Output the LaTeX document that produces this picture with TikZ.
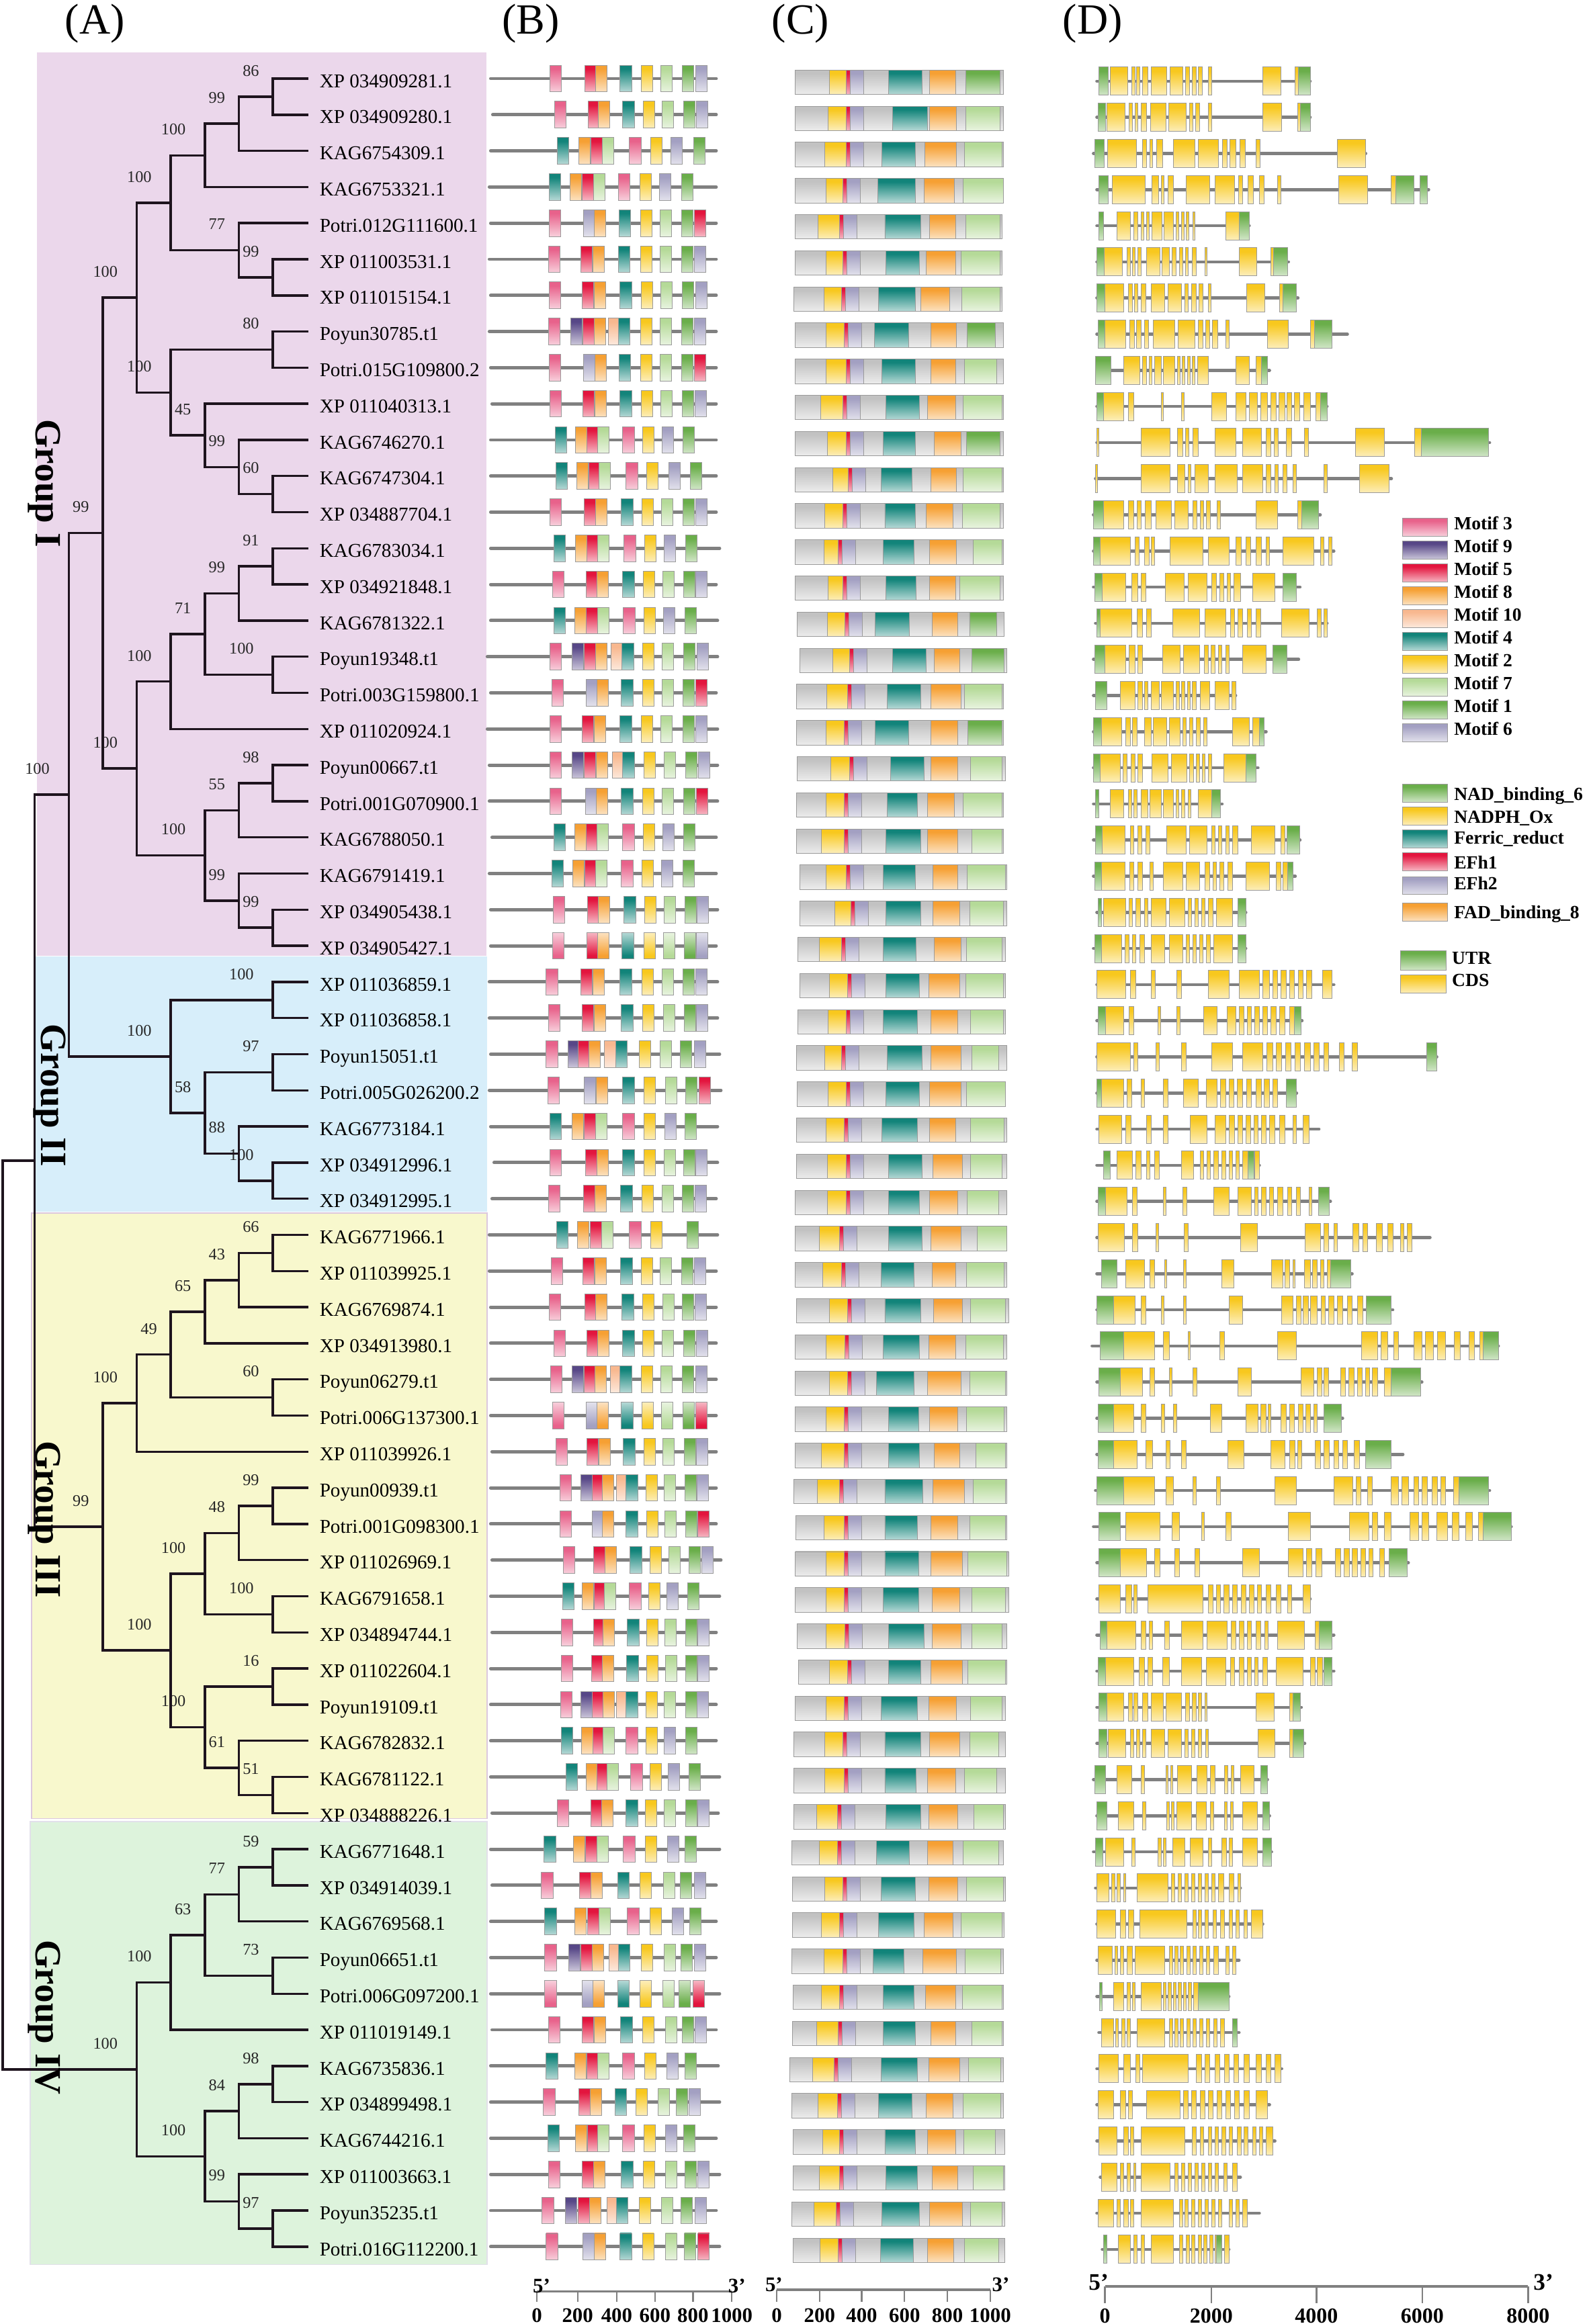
\documentclass[tikz,border=0pt]{standalone}
\usepackage{fontspec}
\setmainfont{Liberation Serif}
\usetikzlibrary{calc}
\definecolor{c3}{HTML}{E8628B}
\definecolor{c9}{HTML}{574787}
\definecolor{c5}{HTML}{E3153E}
\definecolor{c8}{HTML}{F6A033}
\definecolor{c10}{HTML}{F8B88F}
\definecolor{c4}{HTML}{12847A}
\definecolor{c2}{HTML}{F8C81E}
\definecolor{c7}{HTML}{B5DA98}
\definecolor{c1}{HTML}{6AAE4A}
\definecolor{c6}{HTML}{A3A0C2}
\definecolor{cG}{HTML}{C2C2C2}
\colorlet{cc}{c2}
\colorlet{cu}{c1}
\definecolor{treec}{HTML}{1E141E}
\definecolor{lineg}{HTML}{808080}
\definecolor{boxg}{HTML}{9A9A9A}
\definecolor{gIc}{HTML}{EBD7EB}
\definecolor{gIIc}{HTML}{D7EEFA}
\definecolor{gIIIc}{HTML}{F8F8CD}
\definecolor{gIIIb}{HTML}{DCC8DE}
\definecolor{gIVc}{HTML}{DDF3DC}
\definecolor{gIVb}{HTML}{E2E0EA}
\newcommand\mksh[1]{%
 \pgfdeclareverticalshading{sh#1}{100bp}{color(0bp)=(white); color(6bp)=(white); color(68bp)=(c#1); color(100bp)=(c#1)}%
 \pgfdeclareverticalshading{sh#1r}{100bp}{color(0bp)=(c#1); color(32bp)=(c#1); color(94bp)=(white); color(100bp)=(white)}}
\mksh{3}\mksh{9}\mksh{5}\mksh{8}\mksh{10}\mksh{4}\mksh{2}\mksh{7}\mksh{1}\mksh{6}\mksh{G}\mksh{c}\mksh{u}
\newcommand{\tnode}[6]{%
  \path let \p1=(#3), \p2=(#4) in coordinate (#1) at (#2pt,{0.5*\y1+0.5*\y2});
  \draw[br] (#1) |- (#3);
  \draw[br] (#1) |- (#4);
  \node[bs] (#1l) at ($(#1)+(#6,-17.5)$) {#5};}
\newcommand{\tnodeN}[4]{%
  \path let \p1=(#3), \p2=(#4) in coordinate (#1) at (#2pt,{0.5*\y1+0.5*\y2});
  \draw[br] (#1) |- (#3);
  \draw[br] (#1) |- (#4);}
\begin{document}
\begin{tikzpicture}[x=1pt,y=-1pt,
  br/.style={draw=treec, line width=1.6pt, line cap=rect},
  leaf/.style={anchor=base west, inner sep=0pt, font=\fontsize{13.2}{14}\selectfont},
  bs/.style={inner sep=0pt, font=\fontsize{11}{12}\selectfont, text=black!85},
  grp/.style={inner sep=0pt, font=\fontsize{25}{26}\selectfont\bfseries, rotate=-90, anchor=base},
  bline/.style={draw=lineg, line width=2.2pt, line cap=round},
  dline/.style={draw=lineg, line width=2.1pt, line cap=round},
  obox/.style={draw=boxg, line width=0.45pt},
  ttl/.style={font=\fontsize{29}{30}\selectfont, inner sep=0pt},
  leg/.style={font=\fontsize{12.5}{13}\selectfont\bfseries, anchor=base west, inner sep=0pt},
  axl/.style={draw=lineg, line width=1.8pt},
  tck/.style={draw=lineg, line width=1.1pt},
  axt/.style={font=\fontsize{14}{15}\selectfont\bfseries, anchor=base, inner sep=0pt},
  axp/.style={font=\fontsize{14}{15}\selectfont\bfseries, anchor=base, inner sep=0pt}]
\useasboundingbox (0,0) rectangle (1073,1568);
\fill[white] (0,0) rectangle (1073,1568);
% group backgrounds
\fill[gIc] (24.9,35.2) rectangle (328,644.8);
\fill[gIIc] (22.7,645.5) rectangle (328.5,817.5);
\draw[fill=gIIIc, draw=gIIIb, line width=0.8pt] (21.2,818.5) rectangle (328.5,1227);
\draw[fill=gIVc, draw=gIVb, line width=0.6pt] (20.4,1229) rectangle (328.5,1528);
% titles
\node[ttl] (tA) at (64,16) {(A)};
\node[ttl] (tB) at (358,16) {(B)};
\node[ttl] (tC) at (540,16) {(C)};
\node[ttl] (tD) at (737,16) {(D)};
% leaves
\foreach \i/\nm in {1/XP 034909281.1,2/XP 034909280.1,3/KAG6754309.1,4/KAG6753321.1,5/Potri.012G111600.1,6/XP 011003531.1,7/XP 011015154.1,8/Poyun30785.t1,9/Potri.015G109800.2,10/XP 011040313.1,11/KAG6746270.1,12/KAG6747304.1,13/XP 034887704.1,14/KAG6783034.1,15/XP 034921848.1,16/KAG6781322.1,17/Poyun19348.t1,18/Potri.003G159800.1,19/XP 011020924.1,20/Poyun00667.t1,21/Potri.001G070900.1,22/KAG6788050.1,23/KAG6791419.1,24/XP 034905438.1,25/XP 034905427.1,26/XP 011036859.1,27/XP 011036858.1,28/Poyun15051.t1,29/Potri.005G026200.2,30/KAG6773184.1,31/XP 034912996.1,32/XP 034912995.1,33/KAG6771966.1,34/XP 011039925.1,35/KAG6769874.1,36/XP 034913980.1,37/Poyun06279.t1,38/Potri.006G137300.1,39/XP 011039926.1,40/Poyun00939.t1,41/Potri.001G098300.1,42/XP 011026969.1,43/KAG6791658.1,44/XP 034894744.1,45/XP 011022604.1,46/Poyun19109.t1,47/KAG6782832.1,48/KAG6781122.1,49/XP 034888226.1,50/KAG6771648.1,51/XP 034914039.1,52/KAG6769568.1,53/Poyun06651.t1,54/Potri.006G097200.1,55/XP 011019149.1,56/KAG6735836.1,57/XP 034899498.1,58/KAG6744216.1,59/XP 011003663.1,60/Poyun35235.t1,61/Potri.016G112200.1}{
  \pgfmathsetmacro\yy{53+(\i-1)*24.38}
  \coordinate (t\i) at (207.3,\yy);
  \node[leaf] (n\i) at (215.4,{\yy+6}) {\nm};
}
% tree
\tnode{a}{184.05}{t1}{t2}{86}{-14.8}
\tnode{b}{161.1}{a}{t3}{99}{-14.8}
\tnode{c}{138.15}{b}{t4}{100}{-21.2}
\tnode{e}{184.05}{t6}{t7}{99}{-14.8}
\tnode{d}{161.1}{t5}{e}{77}{-14.8}
\tnode{f}{115.2}{c}{d}{100}{-21.2}
\tnode{g}{184.05}{t8}{t9}{80}{-14.8}
\tnode{hA}{184.05}{t12}{t13}{60}{-14.8}
\tnode{hB}{161.1}{t11}{hA}{99}{-14.8}
\tnode{hC}{138.15}{t10}{hB}{45}{-14.8}
\tnode{i}{115.2}{g}{hC}{100}{-21.2}
\tnode{j}{92.25}{f}{i}{100}{-21.2}
\tnode{kA}{184.05}{t14}{t15}{91}{-14.8}
\tnode{kB}{161.1}{kA}{t16}{99}{-14.8}
\tnode{kC}{184.05}{t17}{t18}{100}{-21.2}
\tnode{kD}{138.15}{kB}{kC}{71}{-14.8}
\tnode{kE}{115.2}{kD}{t19}{100}{-21.2}
\tnode{mA}{184.05}{t20}{t21}{98}{-14.8}
\tnode{mB}{161.1}{mA}{t22}{55}{-14.8}
\tnode{mC}{184.05}{t24}{t25}{99}{-14.8}
\tnode{mD}{161.1}{t23}{mC}{99}{-14.8}
\tnode{mE}{138.15}{mB}{mD}{100}{-21.2}
\tnode{nA}{92.25}{kE}{mE}{100}{-21.2}
\tnode{GI}{69.3}{j}{nA}{99}{-14.8}
\tnode{pA}{184.05}{t26}{t27}{100}{-21.2}
\tnode{pB}{184.05}{t28}{t29}{97}{-14.8}
\tnode{pC}{184.05}{t31}{t32}{100}{-21.2}
\tnode{pD}{161.1}{t30}{pC}{88}{-14.8}
\tnode{pE}{138.15}{pB}{pD}{58}{-14.8}
\tnode{GII}{115.2}{pA}{pE}{100}{-21.2}
\tnode{IA}{46.35}{GI}{GII}{100}{-21.2}
\tnode{qA}{184.05}{t33}{t34}{66}{-14.8}
\tnode{qB}{161.1}{qA}{t35}{43}{-14.8}
\tnode{qC}{138.15}{qB}{t36}{65}{-14.8}
\tnode{qD}{184.05}{t37}{t38}{60}{-14.8}
\tnode{qE}{115.2}{qC}{qD}{49}{-14.8}
\tnode{qF}{92.25}{qE}{t39}{100}{-21.2}
\tnode{rA}{184.05}{t40}{t41}{99}{-14.8}
\tnode{rB}{161.1}{rA}{t42}{48}{-14.8}
\tnode{rC}{184.05}{t43}{t44}{100}{-21.2}
\tnode{rD}{138.15}{rB}{rC}{100}{-21.2}
\tnode{sA}{184.05}{t45}{t46}{16}{-14.8}
\tnode{sB}{184.05}{t48}{t49}{51}{-14.8}
\tnode{sC}{161.1}{t47}{sB}{61}{-14.8}
\tnode{sD}{138.15}{sA}{sC}{100}{-21.2}
\tnode{rE}{115.2}{rD}{sD}{100}{-21.2}
\tnode{GIII}{69.3}{qF}{rE}{99}{-14.8}
\tnodeN{IB}{23.4}{IA}{GIII}
\tnode{uA}{184.05}{t50}{t51}{59}{-14.8}
\tnode{uB}{161.1}{uA}{t52}{77}{-14.8}
\tnode{uC}{184.05}{t53}{t54}{73}{-14.8}
\tnode{uD}{138.15}{uB}{uC}{63}{-14.8}
\tnode{uE}{115.2}{uD}{t55}{100}{-21.2}
\tnode{vA}{184.05}{t56}{t57}{98}{-14.8}
\tnode{vB}{161.1}{vA}{t58}{84}{-14.8}
\tnode{vC}{184.05}{t60}{t61}{97}{-14.8}
\tnode{vD}{161.1}{t59}{vC}{99}{-14.8}
\tnode{vE}{138.15}{vB}{vD}{100}{-21.2}
\tnode{GIV}{92.25}{uE}{vE}{100}{-21.2}
\tnodeN{root}{1.8}{IB}{GIV}
% group labels
\node[grp] (lg1) at (24.2,326) {Group I};
\node[grp] (lg2) at (27.9,739) {Group II};
\node[grp] (lg3) at (24.2,1025) {Group III};
\node[grp] (lg4) at (24.2,1361) {Group IV};
% panels
\begin{scope}[xshift=326.4pt, x=0.4568pt]
% panel B
\foreach \ra/\la/\lb/\ml in {
1/10/343/{3/97,5/149,8/165,4/201,2/232,7/261,1/293,6/313},
2/13/343/{3/104,5/154,8/169,4/205,2/235,7/263,1/295,6/314},
3/10/343/{4/108,8/140,5/158,7/175,3/215,2/246,6/276,1/310},
4/8/343/{4/96,8/127,5/145,7/162,3/199,2/230,6/259,1/292},
5/10/343/{3/96,6/147,8/163,4/200,2/231,7/260,1/292,5/311},
6/8/343/{3/95,5/143,8/161,4/199,2/231,7/260,1/292,6/311},
7/10/343/{3/96,5/145,8/163,4/201,2/232,7/261,1/293,6/313},
8/8/343/{3/95,9/128,5/146,8/163,10/184,4/199,2/231,7/260,1/292,6/311},
9/10/343/{3/96,6/147,8/164,4/200,2/231,7/260,1/292,5/311},
10/12/343/{3/97,5/146,8/164,4/201,2/232,7/261,1/293,6/312},
11/10/343/{4/105,8/135,5/152,7/168,3/205,2/234,6/263,1/294},
12/10/343/{4/106,8/137,5/155,7/170,3/210,2/240,6/273,1/305},
13/10/343/{3/97,5/148,8/165,4/203,2/233,7/262,1/294,6/313},
14/10/348/{4/103,8/135,5/152,7/168,3/207,2/237,6/266,1/298},
15/10/343/{3/101,5/151,8/167,4/205,2/235,7/264,1/295,6/313},
16/10/345/{4/103,8/134,5/151,7/168,3/206,2/236,6/265,1/297},
17/5/345/{3/97,9/130,5/148,8/165,10/188,4/204,2/234,7/263,1/295,6/315},
18/10/343/{3/100,6/151,8/167,4/203,2/234,7/263,1/294,5/313},
19/5/345/{3/97,5/145,8/163,4/201,2/232,7/261,1/294,6/313},
20/8/345/{3/97,9/130,5/148,8/166,10/190,4/205,2/236,7/266,1/298,6/317},
21/8/345/{3/97,6/150,8/166,4/203,2/234,7/263,1/295,5/314},
22/12/343/{4/103,8/134,5/151,7/167,3/205,2/235,6/264,1/295},
23/8/343/{4/100,8/131,5/149,7/165,3/203,2/233,6/262,1/294},
24/10/345/{3/102,5/153,8/169,4/207,2/237,7/266,1/297,6/315},
25/10/343/{3r/101,5r/152,8r/168,4r/204,2r/236,7r/265,1r/296,6r/314},
26/8/345/{3/92,5/143,8/161,4/201,2/233,7/263,1/294,6/313},
27/8/345/{3/95,5/145,8/163,4/203,2/234,7/265,1/296,6/314},
28/10/348/{3/92,9/124,5/139,8/155,10/178,4/195,2/229,7/260,1/290,6/311},
29/8/350/{3/94,6/148,8/166,4/205,2/236,7/268,1/298,5/318},
30/10/345/{4/97,8/130,5/148,7/165,3/205,2/236,6/267,1/297},
31/15/345/{3/97,5/150,8/167,4/205,2/236,7/266,1/295,6/313},
32/12/343/{3/95,5/147,8/164,4/202,2/233,7/263,1/293,6/312},
33/8/345/{4/107,8/138,5/157,7/174,3/215,2/246,1/300},
34/8/343/{3/99,5/146,8/164,4/202,2/232,7/260,1/292,6/311},
35/10/343/{3/96,5/149,8/165,4/204,2/234,7/264,1/293,6/312},
36/10/343/{3/103,5/152,8/168,4/205,2/234,7/263,1/295,6/314},
37/10/343/{3/98,9/130,5/148,8/164,10/187,4/201,2/232,7/261,1/293,6/313},
38/10/343/{3r/101,6r/151,8r/167,4r/203,2r/233,7r/262,1r/294,5r/313},
39/12/343/{3/106,5/152,8/170,4/206,2/236,7/264,1/296,6/314},
40/10/343/{3/112,9/143,5/160,8/175,10/196,4/210,2/239,7/266,1/297,6/315},
41/10/343/{3/112,6/160,8/175,4/210,2/240,7/267,1/298,5/316},
42/12/350/{3/117,5/162,8/179,4/216,2/245,7/273,1/303,6/322},
43/10/348/{4/116,8/145,5/163,7/178,3/215,2/243,6/270,1/301},
44/12/343/{3/114,5/162,8/176,4/212,2/240,7/267,1/298,6/316},
45/10/343/{3/114,5/159,8/175,4/211,2/240,7/268,1/298,6/316},
46/10/343/{3/113,9/143,5/160,8/176,10/196,4/210,2/239,7/266,1/298,6/315},
47/10/343/{4/114,8/144,5/161,7/176,3/210,2/239,6/266,1/298},
48/10/348/{4/121,8/151,5/167,7/182,3/217,2/245,6/272,1/303},
49/12/346/{3/108,5/158,8/174,4/210,2/238,7/266,1/298,6/316},
50/10/348/{4/89,8/132,5/150,7/167,3/206,2/238,6/271,1/297},
51/12/343/{3/85,5/141,8/158,4/198,2/230,7/265,1/290,6/311},
52/10/343/{4/90,8/134,5/153,7/170,3/212,2/245,6/278,1/304},
53/10/343/{3/90,9/125,5/143,8/160,10/185,4/199,2/232,7/266,1/291,6/311},
54/10/348/{3r/90,6r/145,8r/161,4r/198,2r/230,7r/264,1r/288,5r/309},
55/12/343/{3/95,5/145,8/163,4/202,2/234,7/268,1/293,6/312},
56/10/346/{4/92,8/134,5/152,7/168,3/205,2/237,6/270,1/297},
57/10/348/{3/88,5/140,8/157,4/194,2/224,7/257,1/284,6/303},
58/10/343/{4/94,8/135,5/153,7/168,3/205,2/236,6/268,1/295},
59/10/348/{3/95,5/145,8/162,4/203,2/235,7/268,1/297,6/316},
60/10/343/{3/86,9/120,5/139,8/156,10/182,4/196,2/229,7/262,1/291,6/312},
61/10/348/{3/92,6/146,8/163,4/201,2/234,7/268,1/296,5/316}}{
  \pgfmathsetmacro\yy{53+(\ra-1)*24.38}
  \draw[bline] (\la,\yy) -- (\lb,\yy);
  \foreach \mc/\ms in \ml {\draw[obox, shading=sh\mc] (\ms,{\yy-9}) rectangle ++(17,18);}
}
% panel C
\foreach \ra/\sa/\ea/\ya/\yb/\ta/\tb/\oa/\ob/\ga/\gb/\dk in {
1/460/767/510/535/597/647/658/697/712/762/1,
2/460/767/508/535/603/655/658/698/712/762/7,
3/460/767/503/535/588/637/651/698/710/765/7,
4/460/767/505/530/582/637/650/695/708/767/7,
5/460/765/493/525/592/645/658/697/712/762/7,
6/460/765/505/530/593/643/653/697/705/762/7,
7/458/765/502/528/583/637/645/688/706/762/7,
8/460/767/505/532/577/627/660/698/714/755/1,
9/460/767/505/535/588/637/660/697/710/757/7,
10/460/767/497/530/593/643/655/697/708/765/7,
11/460/767/507/535/590/637/665/705/713/762/1,
12/460/767/515/538/587/632/660/698/708/765/7,
13/460/767/503/530/592/637/653/693/707/762/7,
14/460/767/502/523/590/635/658/698/722/765/7,
15/460/767/508/530/593/638/658/697/703/762/7,
16/463/768/507/533/578/628/662/700/717/757/1,
17/467/772/515/540/603/653/665/703/720/768/1,
18/462/767/506/537/595/645/660/705/710/765/7,
19/462/767/505/532/578/627/660/700/715/765/1,
20/463/770/512/540/600/650/660/700/718/765/7,
21/462/767/505/532/595/640/655/695/708/765/7,
22/462/767/498/532/593/645/655/700/720/765/7,
23/467/772/505/535/590/637/663/700/714/770/7,
24/467/772/518/542/593/645/663/703/717/767/7,
25/464/770/495/528/590/638/665/705/713/765/7,
26/467/770/510/537/593/643/657/703/712/767/7,
27/464/770/508/535/590/640/660/700/718/767/7,
28/462/772/503/528/595/647/660/705/720/760/7,
29/463/770/508/535/593/643/658/705/713/770/7,
30/462/772/505/532/588/640/658/697/718/768/7,
31/462/772/507/535/597/647/663/707/718/765/7,
32/460/772/507/535/597/643/658/700/714/760/7,
33/460/772/495/525/597/647/660/705/728/772/7,
34/460/772/500/528/587/635/662/697/713/768/7,
35/462/775/510/537/592/645/664/707/718/770/7,
36/460/772/505/533/590/643/657/697/712/767/7,
37/460/772/510/537/580/635/655/705/717/770/7,
38/460/772/505/532/597/642/658/700/713/768/7,
39/460/772/498/532/597/643/665/703/726/770/7,
40/458/772/492/525/592/648/663/710/722/770/7,
41/461/772/502/532/592/640/660/700/717/770/7,
42/460/775/505/532/592/642/660/707/715/772/7,
43/460/775/505/532/590/642/662/703/720/770/7,
44/463/772/505/533/597/650/662/705/720/765/7,
45/465/772/510/537/597/645/660/707/715/770/7,
46/460/770/505/532/587/640/657/698/718/765/7,
47/458/770/503/530/592/645/658/703/717/760/7,
48/458/770/503/532/592/638/655/697/710/757/7,
49/458/770/491/522/593/645/657/700/723/767/7,
50/455/767/495/522/580/628/655/693/708/760/7,
51/456/770/503/530/587/637/657/700/713/767/7,
52/456/768/498/525/583/635/650/693/705/765/7,
53/455/767/502/530/575/620/648/698/711/763/7,
54/457/767/498/525/590/635/652/697/707/765/7,
55/456/767/491/523/590/637/660/697/720/765/7,
56/452/767/485/517/587/640/657/703/716/763/7,
57/455/767/493/522/583/632/653/693/708/763/7,
58/457/769/500/525/592/637/655/697/709/755/7,
59/457/769/495/525/593/640/662/700/722/767/7,
60/455/769/487/520/588/643/658/707/718/765/7,
61/457/769/496/523/586/634/655/694/710/760/7}{
  \pgfmathsetmacro\yy{53+(\ra-1)*24.38}
  \pgfmathsetmacro\yt{\yy-5.75}
  \pgfmathsetmacro\ybb{\yy+10.75}
  \draw[obox, shading=shG] (\sa,\yt) rectangle (\ea,\ybb);
  \draw[obox, shading=sh2] (\ya,\yt) rectangle (\yb,\ybb);
  \draw[obox, shading=sh5] (\yb,\yt) rectangle ({\yb+6},\ybb);
  \draw[obox, shading=sh6] ({\yb+6},\yt) rectangle ({\yb+26},\ybb);
  \draw[obox, shading=sh4] (\ta,\yt) rectangle (\tb,\ybb);
  \draw[obox, shading=sh8] (\oa,\yt) rectangle (\ob,\ybb);
  \draw[obox, shading=sh\dk] (\ga,\yt) rectangle (\gb,\ybb);
}
% panel D
\foreach \ra/\la/\lb/\ex in {
1/905/1220/{908/922/u,925/951/c,957/962/c,964/968/c,972/980/c,985/1008/c,1013/1032/c,1036/1042/c,1046/1052/c,1055/1061/c,1070/1075/c,1150/1177/c,1198/1203/c,1203/1220/u},
2/905/1220/{907/918/u,920/947/c,953/958/c,962/966/c,970/978/c,984/1007/c,1011/1037/c,1042/1047/c,1051/1057/c,1070/1075/c,1150/1178/c,1202/1206/c,1206/1220/u},
3/900/1302/{902/916/u,921/964/c,972/978/c,983/987/c,993/1002/c,1018/1050/c,1055/1085/c,1091/1097/c,1101/1110/c,1116/1124/c,1140/1146/c,1260/1302/c},
4/905/1395/{908/922/u,928/976/c,986/996/c,1000/1004/c,1010/1018/c,1037/1072/c,1080/1108/c,1114/1120/c,1128/1136/c,1145/1152/c,1172/1177/c,1262/1305/c,1340/1346/c,1346/1373/u,1382/1393/u},
5/905/1130/{908/915/u,935/955/c,960/966/c,970/974/c,978/982/c,986/1001/c,1004/1018/c,1022/1026/c,1030/1034/c,1037/1041/c,1047/1050/c,1095/1115/c,1115/1130/u},
6/905/1188/{905/916/u,916/943/c,950/955/c,958/962/c,966/970/c,978/998/c,1001/1012/c,1016/1022/c,1027/1032/c,1036/1040/c,1046/1052/c,1065/1068/c,1115/1141/c,1162/1166/c,1166/1187/u},
7/905/1202/{905/917/u,917/945/c,952/958/c,961/966/c,970/977/c,985/1005/c,1010/1030/c,1035/1040/c,1045/1052/c,1056/1062/c,1070/1074/c,1126/1153/c,1175/1180/c,1180/1200/u},
8/905/1275/{907/917/u,917/948/c,954/961/c,964/970/c,975/981/c,988/1020/c,1025/1050/c,1055/1062/c,1066/1072/c,1076/1084/c,1095/1100/c,1157/1188/c,1220/1226/c,1226/1252/u},
9/905/1160/{903/926/u,945/968/c,972/978/c,982/986/c,990/1000/c,1003/1020/c,1024/1028/c,1031/1035/c,1039/1043/c,1046/1050/c,1054/1070/c,1110/1130/c,1140/1148/c,1148/1157/u},
10/905/1245/{905/915/u,915/945/c,952/960/c,1000/1003/c,1030/1034/c,1075/1096/c,1110/1125/c,1130/1142/c,1147/1157/c,1162/1170/c,1174/1183/c,1186/1193/c,1197/1205/c,1211/1220/c,1228/1235/c,1235/1245/u},
11/905/1485/{905/908/c,970/1013/c,1024/1032/c,1036/1041/c,1047/1055/c,1080/1110/c,1120/1148/c,1155/1162/c,1167/1173/c,1185/1193/c,1212/1217/c,1287/1330/c,1374/1384/c,1384/1483/u},
12/903/1340/{903/906/c,970/1013/c,1024/1035/c,1040/1044/c,1050/1070/c,1080/1112/c,1120/1150/c,1155/1162/c,1168/1173/c,1180/1186/c,1195/1200/c,1240/1245/c,1293/1337/c},
13/900/1235/{900/915/u,915/945/c,952/960/c,965/970/c,976/985/c,992/1015/c,1020/1040/c,1047/1053/c,1058/1063/c,1067/1073/c,1083/1088/c,1140/1172/c,1202/1208/c,1208/1232/u},
14/900/1255/{900/910/u,910/955/c,962/967/c,975/982/c,985/990/c,1013/1062/c,1070/1100/c,1110/1118/c,1125/1132/c,1140/1148/c,1155/1160/c,1180/1225/c,1235/1240/c,1247/1252/c},
15/900/1205/{902/913/u,913/948/c,957/966/c,970/977/c,1006/1034/c,1040/1068/c,1075/1082/c,1087/1092/c,1097/1102/c,1107/1117/c,1135/1168/c,1180/1200/u},
16/903/1245/{905/910/u,910/957/c,965/972/c,978/985/c,1017/1057/c,1065/1095/c,1102/1108/c,1113/1120/c,1127/1133/c,1140/1147/c,1178/1218/c,1230/1236/c,1240/1245/c},
17/900/1203/{902/917/u,917/948/c,953/962/c,966/972/c,1002/1028/c,1033/1057/c,1064/1070/c,1074/1080/c,1085/1090/c,1095/1100/c,1120/1155/c,1165/1186/u},
18/900/1110/{903/920/u,940/962/c,966/972/c,975/980/c,985/997/c,1000/1018/c,1022/1027/c,1030/1035/c,1039/1043/c,1046/1052/c,1058/1072/c,1080/1100/c,1104/1110/c},
19/900/1155/{900/912/u,912/942/c,948/955/c,958/965/c,975/985/c,988/1008/c,1012/1028/c,1032/1037/c,1042/1047/c,1052/1058/c,1063/1068/c,1105/1130/c,1135/1145/c,1145/1152/u},
20/900/1143/{900/910/u,910/940/c,944/950/c,956/962/c,966/972/c,986/1010/c,1015/1038/c,1042/1048/c,1052/1057/c,1061/1065/c,1070/1075/c,1092/1125/c,1125/1140/u},
21/900/1090/{903/908/u,925/945/c,952/957/c,960/965/c,970/980/c,983/1000/c,1003/1018/c,1022/1026/c,1030/1035/c,1040/1044/c,1055/1075/c,1075/1088/u},
22/900/1205/{903/913/u,913/947/c,955/960/c,966/971/c,977/983/c,1008/1037/c,1042/1068/c,1075/1080/c,1085/1090/c,1095/1100/c,1105/1113/c,1133/1168/c,1177/1183/c,1186/1205/u},
23/900/1198/{902/912/u,912/947/c,954/960/c,966/972/c,983/988/c,1003/1032/c,1037/1057/c,1065/1072/c,1077/1082/c,1087/1092/c,1098/1105/c,1125/1160/c,1170/1177/c,1180/1187/c,1187/1195/u},
24/905/1125/{907/912/u,915/948/c,953/958/c,963/969/c,975/980/c,985/1007/c,1012/1035/c,1040/1045/c,1050/1055/c,1060/1065/c,1070/1077/c,1082/1105/c,1113/1125/u},
25/900/1125/{902/912/u,912/942/c,947/953/c,958/963/c,968/975/c,985/1005/c,1012/1032/c,1037/1042/c,1047/1052/c,1057/1062/c,1067/1073/c,1078/1105/c,1113/1125/u},
26/905/1255/{905/948/c,955/963/c,985/991/c,1023/1030/c,1070/1100/c,1115/1145/c,1150/1160/c,1165/1172/c,1177/1185/c,1190/1197/c,1203/1210/c,1215/1222/c,1238/1252/c},
27/905/1208/{907/918/u,918/945/c,953/960/c,995/999/c,1023/1028/c,1063/1083/c,1097/1110/c,1115/1122/c,1127/1133/c,1138/1145/c,1150/1157/c,1162/1170/c,1175/1183/c,1190/1197/c,1197/1207/u},
28/905/1407/{905/955/c,960/966/c,992/997/c,1030/1037/c,1075/1105/c,1120/1150/c,1156/1165/c,1170/1178/c,1184/1192/c,1198/1206/c,1212/1220/c,1225/1233/c,1240/1247/c,1263/1270/c,1282/1290/c,1392/1407/u},
29/905/1200/{905/912/u,912/945/c,950/957/c,970/975/c,1003/1010/c,1033/1055/c,1067/1083/c,1088/1095/c,1100/1107/c,1112/1120/c,1126/1133/c,1140/1148/c,1152/1160/c,1165/1172/c,1185/1200/u},
30/905/1233/{908/942/c,948/956/c,978/985/c,1003/1010/c,1043/1068/c,1080/1095/c,1100/1108/c,1113/1120/c,1125/1132/c,1137/1143/c,1148/1155/c,1160/1168/c,1175/1183/c,1195/1200/c,1210/1218/c},
31/905/1145/{915/925/u,935/958/c,963/970/c,978/983/c,990/997/c,1030/1048/c,1058/1063/c,1068/1073/c,1078/1085/c,1090/1095/c,1100/1105/c,1110/1115/c,1120/1128/c,1128/1137/u,1138/1145/c},
32/905/1250/{907/918/u,918/950/c,958/965/c,1003/1007/c,1032/1038/c,1078/1100/c,1113/1133/c,1138/1143/c,1148/1155/c,1160/1166/c,1172/1180/c,1187/1193/c,1200/1206/c,1218/1222/c,1232/1248/u},
33/905/1397/{907/946/c,958/966/c,992/996/c,1034/1040/c,1117/1142/c,1213/1235/c,1240/1247/c,1255/1260/c,1283/1292/c,1298/1305/c,1318/1327/c,1335/1342/c,1353/1358/c,1363/1370/c},
34/905/1282/{912/935/u,948/975/c,983/990/c,1005/1008/c,1033/1037/c,1090/1107/c,1163/1180/c,1183/1190/c,1195/1198/c,1212/1220/c,1223/1230/c,1235/1240/c,1245/1250/c,1250/1280/u},
35/905/1342/{905/930/u,930/962/c,970/977/c,1000/1004/c,1033/1037/c,1100/1120/c,1178/1195/c,1200/1207/c,1210/1217/c,1220/1230/c,1236/1242/c,1247/1255/c,1260/1268/c,1275/1282/c,1290/1298/c,1303/1340/u},
36/898/1498/{910/945/u,945/990/c,1003/1012/c,1040/1043/c,1087/1093/c,1172/1200/c,1296/1320/c,1325/1335/c,1343/1350/c,1373/1385/c,1390/1402/c,1408/1420/c,1433/1442/c,1455/1463/c,1470/1475/c,1475/1498/u},
37/905/1385/{908/940/u,940/972/c,983/990/c,1012/1016/c,1047/1053/c,1113/1133/c,1207/1225/c,1230/1237/c,1240/1247/c,1265/1272/c,1277/1285/c,1290/1297/c,1302/1308/c,1312/1320/c,1330/1340/c,1340/1383/u},
38/905/1268/{907/930/u,930/960/c,970/977/c,1000/1005/c,1018/1023/c,1073/1090/c,1125/1143/c,1147/1155/c,1158/1162/c,1177/1185/c,1190/1197/c,1203/1210/c,1214/1220/c,1225/1230/c,1240/1266/u},
39/905/1357/{907/930/u,930/965/c,977/987/c,1007/1013/c,1030/1037/c,1098/1122/c,1162/1183/c,1190/1198/c,1202/1208/c,1227/1235/c,1240/1248/c,1255/1262/c,1268/1275/c,1285/1293/c,1302/1340/u},
40/903/1485/{905/945/u,945/990/c,1007/1018/c,1047/1052/c,1082/1088/c,1168/1200/c,1255/1283/c,1288/1295/c,1305/1312/c,1340/1350/c,1355/1365/c,1373/1380/c,1385/1393/c,1400/1408/c,1413/1420/c,1432/1440/c,1440/1483/u},
41/900/1517/{908/940/u,948/998/c,1016/1027/c,1060/1064/c,1095/1103/c,1188/1220/c,1278/1307/c,1312/1320/c,1330/1340/c,1367/1380/c,1385/1395/c,1407/1423/c,1430/1440/c,1450/1460/c,1468/1475/c,1475/1517/u},
42/905/1365/{908/940/u,940/978/c,990/998/c,1020/1027/c,1050/1057/c,1120/1145/c,1188/1210/c,1215/1222/c,1228/1237/c,1257/1265/c,1270/1278/c,1282/1290/c,1295/1302/c,1307/1313/c,1323/1330/c,1337/1363/u},
43/905/1220/{908/940/c,948/957/c,960/965/c,980/1062/c,1070/1077/c,1082/1088/c,1092/1100/c,1105/1112/c,1118/1125/c,1130/1137/c,1142/1148/c,1155/1162/c,1170/1177/c,1187/1193/c,1210/1220/c},
44/905/1255/{910/920/u,920/963/c,970/977/c,982/987/c,1005/1012/c,1030/1062/c,1068/1097/c,1103/1110/c,1115/1122/c,1127/1133/c,1140/1147/c,1153/1158/c,1172/1212/c,1227/1233/c,1233/1252/u},
45/905/1255/{907/918/u,918/960/c,967/975/c,980/987/c,1002/1012/c,1030/1060/c,1067/1095/c,1102/1108/c,1115/1122/c,1127/1133/c,1138/1143/c,1150/1157/c,1170/1210/c,1220/1227/c,1230/1238/c,1240/1252/u},
46/905/1207/{908/920/u,920/945/c,952/958/c,960/966/c,972/980/c,985/1003/c,1007/1030/c,1036/1042/c,1046/1052/c,1055/1060/c,1065/1068/c,1140/1167/c,1190/1195/c,1195/1206/u},
47/905/1212/{908/920/u,922/948/c,955/960/c,964/968/c,972/977/c,985/1005/c,1010/1030/c,1035/1040/c,1045/1050/c,1055/1060/c,1066/1070/c,1143/1168/c,1190/1195/c,1195/1211/u},
48/900/1157/{902/918/u,935/957/c,970/975/c,1007/1010/c,1014/1017/c,1024/1045/c,1053/1068/c,1073/1080/c,1093/1098/c,1103/1107/c,1117/1137/c,1147/1157/u},
49/905/1160/{905/920/u,937/960/c,972/977/c,1008/1012/c,1015/1019/c,1023/1045/c,1052/1067/c,1073/1078/c,1093/1097/c,1102/1106/c,1120/1142/c,1150/1160/u},
50/900/1163/{903/914/u,918/945/c,957/962/c,995/1000/c,1003/1007/c,1017/1035/c,1043/1062/c,1070/1075/c,1090/1096/c,1100/1105/c,1120/1142/c,1150/1163/u},
51/903/1117/{905/923/c,927/932/c,935/940/c,945/948/c,965/1010/c,1015/1020/c,1025/1030/c,1035/1040/c,1045/1050/c,1055/1060/c,1065/1070/c,1075/1080/c,1085/1092/c,1100/1107/c,1113/1117/c},
52/905/1150/{905/933/c,940/948/c,952/960/c,968/1038/c,1047/1052/c,1055/1060/c,1065/1070/c,1077/1082/c,1088/1093/c,1100/1105/c,1110/1115/c,1122/1127/c,1133/1150/c},
53/905/1115/{907/928/c,932/936/c,940/945/c,950/958/c,962/1005/c,1012/1017/c,1020/1025/c,1028/1033/c,1038/1043/c,1047/1052/c,1057/1062/c,1067/1072/c,1078/1085/c,1095/1100/c,1105/1110/c},
54/905/1100/{909/913/u,930/945/c,950/955/c,958/962/c,970/1000/c,1003/1007/c,1010/1015/c,1018/1022/c,1025/1030/c,1033/1037/c,1040/1045/c,1048/1055/c,1055/1100/u},
55/908/1115/{912/930/c,933/937/c,942/947/c,950/955/c,965/1005/c,1012/1017/c,1020/1025/c,1028/1033/c,1038/1043/c,1047/1052/c,1057/1062/c,1067/1072/c,1078/1083/c,1088/1093/c,1105/1112/u},
56/905/1178/{908/937/c,945/955/c,963/968/c,972/1040/c,1052/1060/c,1065/1072/c,1080/1087/c,1093/1100/c,1107/1114/c,1122/1130/c,1140/1148/c,1155/1162/c,1168/1177/c},
57/905/1160/{907/930/c,940/948/c,952/958/c,978/1028/c,1033/1040/c,1045/1052/c,1058/1065/c,1070/1077/c,1083/1090/c,1095/1102/c,1108/1115/c,1122/1130/c,1140/1157/c},
58/905/1168/{908/935/c,945/952/c,955/960/c,970/1035/c,1046/1052/c,1058/1063/c,1070/1075/c,1080/1085/c,1090/1095/c,1100/1105/c,1112/1118/c,1122/1128/c,1135/1140/c,1145/1150/c,1155/1165/c},
59/910/1117/{912/935/c,940/945/c,950/955/c,960/963/c,970/1013/c,1020/1025/c,1030/1035/c,1040/1045/c,1050/1055/c,1060/1065/c,1070/1075/c,1080/1085/c,1092/1097/c,1105/1112/c},
60/905/1145/{907/930/c,935/940/c,945/952/c,955/960/c,970/1018/c,1027/1032/c,1035/1040/c,1045/1050/c,1055/1060/c,1065/1070/c,1075/1080/c,1085/1090/c,1100/1105/c,1110/1115/c,1120/1127/c},
61/913/1100/{915/920/u,937/955/c,960/965/c,970/975/c,985/1018/c,1027/1032/c,1037/1042/c,1045/1050/c,1055/1060/c,1063/1068/c,1072/1077/c,1080/1085/c,1082/1090/u,1093/1100/c}}{
  \pgfmathsetmacro\yy{53+(\ra-1)*24.38+1.8}
  \draw[dline] (\la,\yy) -- (\lb,\yy);
  \foreach \ka/\kb/\kt in \ex {\draw[obox, shading=sh\kt] (\ka,{\yy-9.5}) rectangle (\kb,{\yy+9.5});}
}
\end{scope}
% legend
\foreach \k/\cq/\lab in {0/3/Motif 3,1/9/Motif 9,2/5/Motif 5,3/8/Motif 8,4/10/Motif 10,5/4/Motif 4,6/2/Motif 2,7/7/Motif 7,8/1/Motif 1,9/6/Motif 6}{
  \pgfmathsetmacro\yy{349.8+15.4*\k}
  \draw[obox, shading=sh\cq] (946,\yy) rectangle (976.5,{\yy+12.1});
  \node[leg] (lm\k) at (980.6,{\yy+7.4}) {\lab};
}
\foreach \k/\cq/\yb/\yl/\lab in {0/1/529.2/539.9/NAD\_binding\_6,1/2/544.6/555.3/NADPH\_Ox,2/4/560/569.6/Ferric\_reduct,3/5/575.4/586.1/EFh1,4/6/591.5/600.1/EFh2,5/8/609.5/619.6/FAD\_binding\_8}{
  \draw[obox, shading=sh\cq] (946,\yb) rectangle (976.5,{\yb+12.1});
  \node[leg] (ld\k) at (980.6,\yl) {\lab};
}
\draw[obox, shading=sh1] (944.5,641.4) rectangle (975.6,654.6);
\node[leg] (lutr) at (979.2,650.4) {UTR};
\draw[obox, shading=sh2] (944.5,657.9) rectangle (975.6,670.1);
\node[leg] (lcds) at (979.2,665.3) {CDS};
% axes
\draw[axl] (362.1,1546) -- (493.6,1546);
\foreach \x/\l in {362.1/0,389.6/200,416.0/400,441.8/600,467.4/800,493.6/1000}{
  \draw[tck] (\x,1546) -- (\x,1553);
  \node[axt] (bx\l) at (\x,1567) {\l};
}
\node[axp] (b5) at (365.3,1547) {5'};
\node[axp] (b3) at (497,1547) {3'};
\draw[axl] (523.9,1544.8) -- (667.9,1544.8);
\foreach \x/\l in {523.9/0,552.8/200,581.2/400,610.1/600,639.0/800,667.9/1000}{
  \draw[tck] (\x,1544.8) -- (\x,1553);
  \node[axt] (cx\l) at (\x,1567) {\l};
}
\node[axp] (c5) at (522,1546) {5'};
\node[axp] (c3) at (675,1546) {3'};
\draw[axl] (745.3,1542.8) -- (1030.7,1542.8);
\foreach \x/\l in {745.3/0,817.0/2000,887.9/4000,959.3/6000,1030.7/8000}{
  \draw[tck] (\x,1542.8) -- (\x,1554);
  \node[axt, font=\fontsize{14.5}{15}\selectfont\bfseries] (dx\l) at (\x,1567.5) {\l};
}
\node[axp, font=\fontsize{16}{17}\selectfont\bfseries] (d5) at (741,1545) {5'};
\node[axp, font=\fontsize{16}{17}\selectfont\bfseries] (d3) at (1041,1545) {3'};
\end{tikzpicture}
\end{document}
